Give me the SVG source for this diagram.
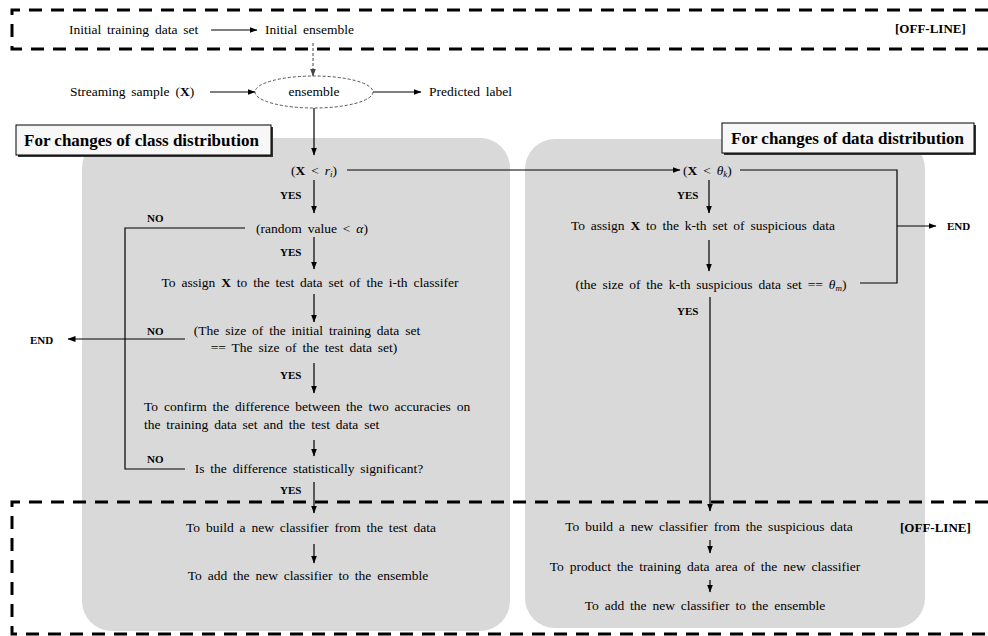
<svg xmlns="http://www.w3.org/2000/svg" width="988" height="636" viewBox="0 0 988 636">
<defs>
<marker id="ah" markerWidth="8" markerHeight="6" refX="7.5" refY="3" orient="auto" markerUnits="userSpaceOnUse">
<path d="M0,0 L8,3 L0,6 z" fill="#000"/>
</marker>
<marker id="ahg" markerWidth="8" markerHeight="6" refX="7.5" refY="3" orient="auto" markerUnits="userSpaceOnUse">
<path d="M0,0 L8,3 L0,6 z" fill="#444"/>
</marker>
<style>
.t{font-family:"Liberation Serif","Times New Roman",serif;font-size:13.5px;fill:#000;word-spacing:2.5px}
.m{text-anchor:middle}
.b{font-weight:bold;font-size:11px;word-spacing:0}
.h{font-family:"Liberation Serif","Times New Roman",serif;font-size:17px;font-weight:bold;fill:#000;word-spacing:0}
.c{stroke:#000;stroke-width:1.2;fill:none}
.a{marker-end:url(#ah)}
.d{stroke:#000;stroke-width:3;fill:none;stroke-dasharray:13 9}
.p{fill:#d9d9d9}
</style>
</defs>
<rect width="988" height="636" fill="#fff"/>
<g id="panels">
<rect class="p" x="82" y="138" width="428" height="493" rx="30"/>
<rect class="p" x="525" y="139" width="400" height="489" rx="30"/>
</g>
<g id="offline-boxes">
<path class="d" d="M988,10 H12 V49 H988"/>
<path class="d" d="M988,502 H12 V634 H988"/>
</g>
<g id="title-class">
<rect x="18" y="127" width="255" height="30" fill="#333"/>
<rect x="16" y="125" width="255" height="30" fill="#f7f7f7" stroke="#000" stroke-width="1"/>
<text class="h" x="24" y="146">For changes of class distribution</text>
</g>
<g id="title-data">
<rect x="724" y="125" width="252" height="30" fill="#333"/>
<rect x="722" y="123" width="252" height="30" fill="#f7f7f7" stroke="#000" stroke-width="1"/>
<text class="h" x="731" y="144">For changes of data distribution</text>
</g>
<g id="connectors">
<line class="c a" x1="211" y1="30" x2="257" y2="30"/>
<line x1="313" y1="43" x2="313" y2="76" stroke="#444" stroke-width="1" stroke-dasharray="3 2" marker-end="url(#ahg)"/>
<line class="c a" x1="210" y1="92" x2="255" y2="92"/>
<line class="c a" x1="373" y1="92" x2="421" y2="92"/>
<line class="c a" x1="314" y1="108" x2="314" y2="155"/>
<line class="c a" x1="347" y1="170" x2="680" y2="170"/>
<line class="c a" x1="314" y1="180" x2="314" y2="213"/>
<line class="c a" x1="314" y1="237" x2="314" y2="269"/>
<line class="c a" x1="314" y1="294" x2="314" y2="322"/>
<line class="c a" x1="314" y1="363" x2="314" y2="393"/>
<line class="c a" x1="314" y1="440" x2="314" y2="456"/>
<line class="c a" x1="314" y1="482" x2="314" y2="513"/>
<line class="c a" x1="314" y1="544" x2="314" y2="563"/>
<polyline class="c" points="245,228 125,228 125,469 185,469"/>
<line class="c a" x1="185" y1="339" x2="68" y2="339"/>
<polyline class="c" points="740,170 897,170 897,283 860,283"/>
<line class="c a" x1="897" y1="226" x2="936" y2="226"/>
<line class="c a" x1="709" y1="180" x2="709" y2="213"/>
<line class="c a" x1="709" y1="240" x2="709" y2="271"/>
<line class="c a" x1="710" y1="297" x2="710" y2="511"/>
<line class="c a" x1="710" y1="540" x2="710" y2="553"/>
<line class="c a" x1="710" y1="580" x2="710" y2="592"/>
</g>
<g id="n-initial-training"><text class="t" x="69" y="34">Initial training data set</text></g>
<g id="n-initial-ensemble"><text class="t" x="265" y="34">Initial ensemble</text></g>
<g id="n-offline-top"><text class="t b" x="895" y="33" style="font-size:13px">[OFF-LINE]</text></g>
<g id="n-stream"><text class="t" x="70" y="96">Streaming sample (<tspan font-weight="bold">X</tspan>)</text></g>
<g id="n-ensemble">
<ellipse cx="314" cy="92" rx="59" ry="16" fill="none" stroke="#555" stroke-width="1" stroke-dasharray="3 2"/>
<text class="t m" x="314" y="96">ensemble</text>
</g>
<g id="n-predicted"><text class="t" x="429" y="96">Predicted label</text></g>
<g id="n-x-ri"><text class="t m" x="314" y="175">(<tspan font-weight="bold">X</tspan> &lt; <tspan font-style="italic">r</tspan><tspan font-style="italic" font-size="9" dy="2">i</tspan><tspan dy="-2">)</tspan></text></g>
<g id="l-yes1"><text class="t b" x="280" y="199">YES</text></g>
<g id="n-random"><text class="t m" x="312" y="233">(random value &lt; <tspan font-style="italic">α</tspan>)</text></g>
<g id="l-no1"><text class="t b" x="147" y="222">NO</text></g>
<g id="l-yes2"><text class="t b" x="280" y="256">YES</text></g>
<g id="n-assign-test"><text class="t m" x="310" y="287">To assign <tspan font-weight="bold">X</tspan> to the test data set of the i-th classifer</text></g>
<g id="n-size-check">
<text class="t m" x="307" y="335">(The size of the initial training data set</text>
<text class="t m" x="304" y="352">== The size of the test data set)</text>
</g>
<g id="l-no2"><text class="t b" x="147" y="335">NO</text></g>
<g id="n-end-left"><text class="t b" x="30" y="344">END</text></g>
<g id="l-yes3"><text class="t b" x="280" y="379">YES</text></g>
<g id="n-confirm">
<text class="t" x="144" y="411">To confirm the difference between the two accuracies on</text>
<text class="t" x="144" y="429">the training data set and the test data set</text>
</g>
<g id="l-no3"><text class="t b" x="147" y="463">NO</text></g>
<g id="n-significant"><text class="t m" x="309" y="473">Is the difference statistically significant?</text></g>
<g id="l-yes4"><text class="t b" x="280" y="494">YES</text></g>
<g id="n-build-test"><text class="t m" x="311" y="532">To build a new classifier from the test data</text></g>
<g id="n-add-left"><text class="t m" x="308" y="580">To add the new classifier to the ensemble</text></g>
<g id="n-x-theta"><text class="t" x="683" y="175">(<tspan font-weight="bold">X</tspan> &lt; <tspan font-style="italic">θ</tspan><tspan font-style="italic" font-size="9" dy="2">k</tspan><tspan dy="-2">)</tspan></text></g>
<g id="n-end-right"><text class="t b" x="947" y="230">END</text></g>
<g id="l-yes5"><text class="t b" x="677" y="199">YES</text></g>
<g id="n-assign-susp"><text class="t m" x="703" y="230">To assign <tspan font-weight="bold">X</tspan> to the k-th set of suspicious data</text></g>
<g id="n-size-susp"><text class="t m" x="711" y="289">(the size of the k-th suspicious data set == <tspan font-style="italic">θ</tspan><tspan font-style="italic" font-size="9" dy="2">m</tspan><tspan dy="-2">)</tspan></text></g>
<g id="l-yes6"><text class="t b" x="677" y="315">YES</text></g>
<g id="n-build-susp"><text class="t m" x="709" y="531">To build a new classifier from the suspicious data</text></g>
<g id="n-offline-bottom"><text class="t b" x="900" y="532" style="font-size:13px">[OFF-LINE]</text></g>
<g id="n-product"><text class="t m" x="705" y="571">To product the training data area of the new classifier</text></g>
<g id="n-add-right"><text class="t m" x="705" y="610">To add the new classifier to the ensemble</text></g>
</svg>
